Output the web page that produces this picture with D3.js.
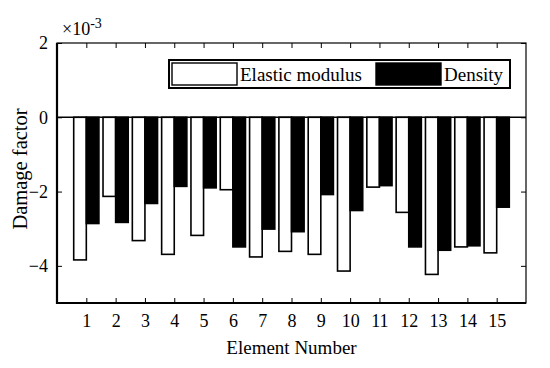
<!DOCTYPE html>
<html>
<head>
<meta charset="utf-8">
<script src="https://cdn.jsdelivr.net/npm/d3@7"></script>
<style>
  body { margin: 0; background: #fff; }
  text { font-family: 'Liberation Serif', 'Times New Roman', serif; fill: #000; }
</style>
</head>
<body>
<div id="chart"></div>
<script>
// values in units of 1e-3
var elements = [1, 2, 3, 4, 5, 6, 7, 8, 9, 10, 11, 12, 13, 14, 15];
var elasticModulus = [-3.84, -2.13, -3.32, -3.69, -3.18, -1.95, -3.76, -3.61, -3.69, -4.14, -1.88, -2.56, -4.23, -3.49, -3.65];
var density = [-2.86, -2.83, -2.32, -1.86, -1.90, -3.49, -3.01, -3.08, -2.08, -2.51, -1.84, -3.49, -3.58, -3.46, -2.42];
var yTicks = [-4, -2, 0, 2];
var seriesNames = ['Elastic modulus', 'Density'];

var W = 550, H = 368;
var m = { left: 57, right: 24, top: 43, bottom: 65 };
var iw = W - m.left - m.right, ih = H - m.top - m.bottom;

var svg = d3.select('#chart').append('svg')
  .attr('width', W).attr('height', H);

var x = d3.scaleLinear().domain([0, 16]).range([m.left, m.left + iw]);
var y = d3.scaleLinear().domain([-5, 2]).range([m.top + ih, m.top]);
var bw = 0.43; // bar width in x units

var g = svg.append('g');

// bars
var rows = elements.map(function(e, i) {
  return { e: e, a: elasticModulus[i], b: density[i] };
});
g.selectAll('rect.em').data(rows).enter().append('rect')
  .attr('x', function(d) { return x(d.e - bw); })
  .attr('width', x(bw) - x(0))
  .attr('y', y(0))
  .attr('height', function(d) { return y(d.a) - y(0); })
  .attr('fill', '#fff').attr('stroke', '#000').attr('stroke-width', 1.6);
g.selectAll('rect.de').data(rows).enter().append('rect')
  .attr('x', function(d) { return x(d.e); })
  .attr('width', x(bw) - x(0))
  .attr('y', y(0))
  .attr('height', function(d) { return y(d.b) - y(0); })
  .attr('fill', '#000').attr('stroke', '#000').attr('stroke-width', 1.6);

// zero line
g.append('line')
  .attr('x1', x(0)).attr('x2', x(16))
  .attr('y1', y(0)).attr('y2', y(0))
  .attr('stroke', '#000').attr('stroke-width', 1.5);

// inward ticks
function styleAxis(sel) {
  sel.select('.domain').remove();
  sel.selectAll('line').attr('stroke', '#000').attr('stroke-width', 1);
  sel.selectAll('text').style('font-family', "'Liberation Serif', serif").style('font-size', '18px');
}
var xb = svg.append('g').attr('transform', 'translate(0,' + y(-5) + ')')
  .call(d3.axisBottom(x).tickValues(elements).tickSize(-5).tickPadding(10).tickFormat(d3.format('d')));
styleAxis(xb);
xb.selectAll('text').attr('dy', '0.75em');
var xt = svg.append('g').attr('transform', 'translate(0,' + y(2) + ')')
  .call(d3.axisTop(x).tickValues(elements).tickSize(-5).tickFormat(''));
styleAxis(xt);
var yl = svg.append('g').attr('transform', 'translate(' + x(0) + ',0)')
  .call(d3.axisLeft(y).tickValues(yTicks).tickSize(-5).tickPadding(9).tickFormat(d3.format('d')));
styleAxis(yl);
var yr = svg.append('g').attr('transform', 'translate(' + x(16) + ',0)')
  .call(d3.axisRight(y).tickValues(yTicks).tickSize(-5).tickFormat(''));
styleAxis(yr);

// frame
svg.append('rect')
  .attr('x', x(0)).attr('y', y(2))
  .attr('width', x(16) - x(0)).attr('height', y(-5) - y(2))
  .attr('fill', 'none').attr('stroke', '#000').attr('stroke-width', 1.2);
svg.append('path')
  .attr('d', 'M' + x(0) + ',' + y(2) + 'V' + y(-5) + 'H' + x(16))
  .attr('fill', 'none').attr('stroke', '#000').attr('stroke-width', 2.2);

// exponent label
var ex = svg.append('text').attr('x', x(0) + 5).attr('y', 35).style('font-size', '18px');
ex.append('tspan').text('\u00d710');
ex.append('tspan').attr('dy', -7).style('font-size', '14px').text('-3');

// axis titles
svg.append('text')
  .attr('x', (x(0) + x(16)) / 2).attr('y', 354)
  .attr('text-anchor', 'middle').style('font-size', '19px')
  .text('Element Number');
svg.append('text')
  .attr('transform', 'translate(27,169) rotate(-90)')
  .attr('text-anchor', 'middle').style('font-size', '20.5px')
  .text('Damage factor');

// legend
var lg = svg.append('g');
lg.append('rect').attr('x', 169).attr('y', 60).attr('width', 341).attr('height', 28)
  .attr('fill', '#fff').attr('stroke', '#000').attr('stroke-width', 2);
var swatches = [
  { x: 172, fill: '#fff', tx: 240 },
  { x: 376, fill: '#000', tx: 444 }
];
lg.selectAll('rect.sw').data(swatches).enter().append('rect')
  .attr('x', function(d) { return d.x; }).attr('y', 63)
  .attr('width', 65).attr('height', 22)
  .attr('fill', function(d) { return d.fill; })
  .attr('stroke', '#000').attr('stroke-width', 1.4);
lg.selectAll('text.lt').data(swatches).enter().append('text')
  .attr('x', function(d) { return d.tx; }).attr('y', 81)
  .style('font-size', '19px')
  .text(function(d, i) { return seriesNames[i]; });
</script>
</body>
</html>
